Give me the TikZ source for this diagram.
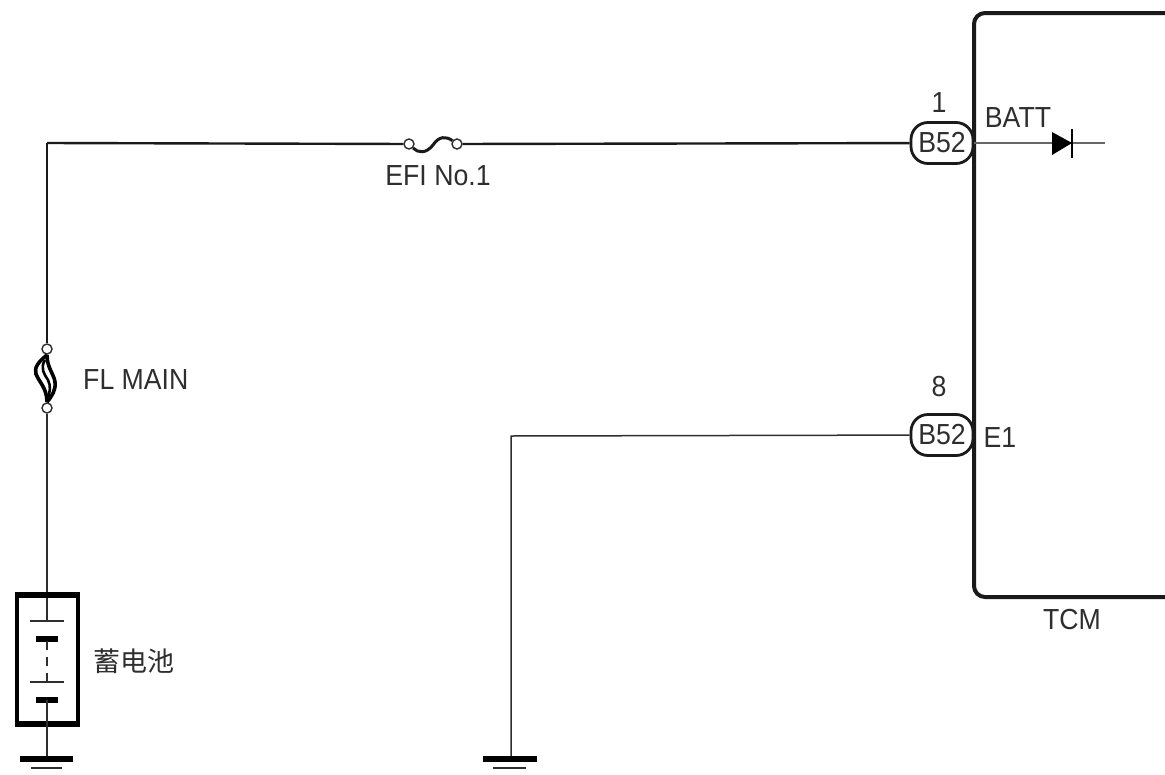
\documentclass[tikz,border=0pt]{standalone}
\usepackage{fontspec}
\setmainfont[FakeStretch=0.92]{Liberation Sans}
\newfontfamily\cjk{Noto Sans CJK SC}
\definecolor{wire_dark}{HTML}{1A1A1A}
\definecolor{text_dark}{HTML}{2E2E2E}
\begin{document}
\begin{tikzpicture}[x=1pt,y=-1pt,
    wire/.style={line width=2.4pt,wire_dark},
    thinwire/.style={line width=1.5pt,text_dark},
    lbl/.style={text=text_dark,inner sep=0pt,font=\fontsize{29}{32}\selectfont},
    pin/.style={draw=text_dark,line width=1.4pt,fill=white,circle,inner sep=0pt,minimum size=10pt},
    conn/.style={draw=wire_dark,line width=2.8pt,fill=white,rounded corners=17pt,minimum width=62pt,minimum height=41pt,inner sep=0pt,text=text_dark,font=\fontsize{29}{32}\selectfont},
    plate/.style={line width=5.5pt,black},
    thinplate/.style={line width=1.6pt,text_dark}]
              \useasboundingbox (0,0) rectangle (1165,774);
              \coordinate (corner) at (47,143);
              \coordinate (bat_top) at (47,620);
              \coordinate (bat_bottom) at (47,700);
              \coordinate (gnd1) at (47,759);
              \coordinate (gnd2) at (511,759);
              \coordinate (corner2) at (511,436);
              \coordinate (batt_end) at (1105,143);
              \coordinate (diode_in) at (1052,143);
              \coordinate (diode_out) at (1072,143);
              % TCM
              \draw[line width=4pt,wire_dark,rounded corners=11pt] (1165,13) -- (974,13) -- (974,597) -- (1165,597);
              \node[lbl] (tcm) at (1072,620) {TCM};
              % connectors
              \node[conn] (b52a) at (942,143) {B52};
              \node[conn] (b52b) at (942,435) {B52};
              \node[lbl] (pin1) at (939,103) {1};
              \node[lbl] (pin8) at (939,387) {8};
              \node[lbl] (batt) at (1018,118) {BATT};
              \node[lbl] (e1) at (1000,438) {E1};
              % diode
              \draw[thinwire,line width=1.8pt,black!60] (974,143) -- (batt_end);
              \fill[black] (diode_in) ++(0,-11) -- (diode_out) -- (1052,155) -- cycle;
              \draw[line width=1.4pt,black] (1072,129) -- (1072,158);
              % EFI fuse
              \node[pin] (efi_a) at (409,144) {};
              \node[pin] (efi_b) at (457,144) {};
              \draw[wire] (corner) -- (efi_a);
              \draw[wire] (efi_b) -- (b52a);
              \draw[line width=3pt,wire_dark] (efi_a) .. controls (418,153) and (426,154) .. (433,145) .. controls (439,136) and (446,136) .. (efi_b);
              \node[lbl] (efi) at (438,176) {EFI No.1};
              % FL MAIN fuse
              \node[pin] (fl_a) at (47,349) {};
              \node[pin] (fl_b) at (47,408) {};
              \draw[wire,line width=2pt] (corner) -- (fl_a);
              \draw[thinwire] (fl_b) -- (bat_top);
              \draw[line width=3.6pt,black] (47,355) .. controls (38,362) and (34,368) .. (36,374) .. controls (39,382) and (47,388) .. (47,402);
              \draw[line width=3.6pt,black] (47,355) .. controls (47,368) and (54,374) .. (55,382) .. controls (56,390) and (52,396) .. (47,402);
              \draw[line width=2.6pt,black] (45,360) .. controls (40,368) and (44,374) .. (48,380) .. controls (51,386) and (50,392) .. (48,397);
              \node[lbl,anchor=west] (flmain) at (83,380) {FL MAIN};
              % battery
              \draw[line width=4pt,black] (17,592) -- (17,727) (78,592) -- (78,727);
              \draw[line width=6.5pt,black] (15,595) -- (80,595) (15,724) -- (80,724);
              \draw[thinplate,line width=2.2pt] (30,621) -- (64,621);
              \draw[plate] (36,639) -- (58,639);
              \draw[thinwire,dashed,dash pattern=on 9pt off 7pt] (47,641) -- (47,682);
              \draw[thinplate] (30,682) -- (64,682);
              \draw[plate] (36,700) -- (58,700);
              \draw[thinwire] (bat_bottom) -- (gnd1);
              \node[text=text_dark,inner sep=0pt,font=\cjk\fontsize{27}{30}\selectfont] (bat_label) at (134,661) {蓄电池};
              % grounds
              \draw[plate] (20,759) -- (73,759);
              \draw[thinplate] (31,768) -- (62,768);
              \draw[thinwire] (b52b) -- (corner2) -- (gnd2);
              \draw[plate] (483,759) -- (537,759);
              \draw[thinplate] (493,768) -- (526,768);
          \end{tikzpicture}
\end{document}
